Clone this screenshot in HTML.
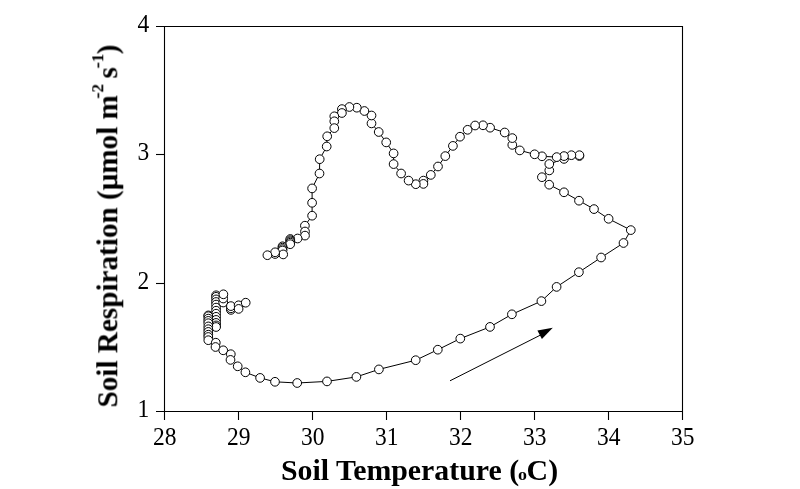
<!DOCTYPE html>
<html><head><meta charset="utf-8"><style>
html,body{margin:0;padding:0;background:#fff;}
body{width:800px;height:489px;overflow:hidden;}
svg{display:block;} text{will-change:transform;}
.lab{font-family:"Liberation Serif",serif;font-size:25px;fill:#000;}
.tit{font-family:"Liberation Serif",serif;font-size:30px;font-weight:bold;fill:#000;}
</style></head><body>
<svg width="800" height="489" viewBox="0 0 800 489">
<rect width="800" height="489" fill="#fff"/>
<g stroke="#000" stroke-width="1.1" fill="none">
<line x1="156" y1="26.5" x2="683.0" y2="26.5"/>
<line x1="156" y1="411.5" x2="683.0" y2="411.5"/>
<line x1="164.5" y1="26.0" x2="164.5" y2="420"/>
<line x1="682.5" y1="26.0" x2="682.5" y2="420"/>
<line x1="156" y1="154.5" x2="164.5" y2="154.5"/>
<line x1="156" y1="283.5" x2="164.5" y2="283.5"/>
<line x1="238.5" y1="411.5" x2="238.5" y2="420"/>
<line x1="312.5" y1="411.5" x2="312.5" y2="420"/>
<line x1="386.5" y1="411.5" x2="386.5" y2="420"/>
<line x1="460.5" y1="411.5" x2="460.5" y2="420"/>
<line x1="534.5" y1="411.5" x2="534.5" y2="420"/>
<line x1="608.5" y1="411.5" x2="608.5" y2="420"/>
</g>
<polyline points="245.7,302.7 238.6,308.9 238.6,305.3 230.9,306.1 230.9,308.3 230.9,309.9 223.4,294.3 223.2,298.5 223.2,302.5 216.1,295.3 216.1,296.8 216.1,299.4 216.1,302.0 216.1,304.6 216.1,307.6 216.1,310.7 216.1,313.7 216.1,316.8 216.1,319.9 216.1,322.9 216.1,325.4 216.1,327.0 208.3,315.4 208.3,316.2 208.3,318.6 208.3,320.9 208.3,323.2 208.3,326.4 208.3,329.2 208.3,331.9 208.3,334.7 208.3,337.0 208.3,340.2 215.8,342.7 215.5,347.0 223.2,350.3 230.8,354.2 230.5,359.9 237.7,366.3 245.4,372.3 260.1,377.9 275.0,381.8 297.2,383.0 327.0,381.4 356.4,376.9 378.9,369.4 415.7,360.2 437.8,349.7 460.3,338.6 490.0,326.9 511.9,314.3 541.4,301.1 556.6,286.9 578.9,272.2 601.1,257.5 623.5,243.0 630.8,230.1 608.6,218.8 594.0,209.1 579.0,200.7 564.0,192.3 549.2,184.7 541.9,177.2 549.3,170.4 549.3,164.0 564.0,158.9 579.4,156.0 579.4,155.2 571.4,155.2 564.0,156.1 556.7,157.1 542.0,156.3 534.6,154.3 519.8,150.4 512.3,144.9 512.3,138.1 504.7,132.5 490.1,127.7 483.0,125.3 475.1,125.5 467.6,129.8 460.0,136.7 452.9,145.9 445.3,156.1 438.0,166.5 430.8,174.9 423.4,180.6 423.4,183.9 415.8,184.2 408.6,180.6 401.1,173.5 393.6,164.1 393.6,153.4 386.2,142.4 378.7,132.0 371.5,123.4 371.5,115.5 364.4,111.0 356.8,107.7 349.4,107.0 341.9,109.1 341.9,113.0 334.3,116.3 334.3,121.3 334.3,128.1 327.2,136.3 326.7,146.5 319.7,159.2 319.5,173.5 312.1,188.4 312.1,202.8 312.1,215.7 304.9,225.7 305.0,231.5 305.0,235.6 297.6,238.5 290.3,239.0 290.3,240.2 290.3,241.4 290.3,242.7 290.2,244.2 282.5,246.3 282.5,247.7 282.5,249.1 282.5,250.5 283.2,254.4 275.1,254.0 275.1,252.3 267.4,255.2" fill="none" stroke="#000" stroke-width="1.0"/>
<path d="M450,380.8 L541,334.8" stroke="#000" stroke-width="1.0" fill="none"/>
<path d="M552.8,327.8 L537.4,330.4 L541.9,339.0 Z" fill="#000"/>
<g fill="#fff" stroke="#000" stroke-width="1.0">
<circle cx="216.1" cy="295.3" r="4.35"/>
<circle cx="216.1" cy="296.8" r="4.35"/>
<circle cx="216.1" cy="299.4" r="4.35"/>
<circle cx="216.1" cy="302.0" r="4.35"/>
<circle cx="216.1" cy="304.6" r="4.35"/>
<circle cx="216.1" cy="307.6" r="4.35"/>
<circle cx="216.1" cy="310.7" r="4.35"/>
<circle cx="216.1" cy="313.7" r="4.35"/>
<circle cx="216.1" cy="316.8" r="4.35"/>
<circle cx="216.1" cy="319.9" r="4.35"/>
<circle cx="216.1" cy="322.9" r="4.35"/>
<circle cx="216.1" cy="325.4" r="4.35"/>
<circle cx="216.1" cy="327.0" r="4.35"/>
<circle cx="208.3" cy="315.4" r="4.35"/>
<circle cx="208.3" cy="316.2" r="4.35"/>
<circle cx="208.3" cy="318.6" r="4.35"/>
<circle cx="208.3" cy="320.9" r="4.35"/>
<circle cx="208.3" cy="323.2" r="4.35"/>
<circle cx="208.3" cy="326.4" r="4.35"/>
<circle cx="208.3" cy="329.2" r="4.35"/>
<circle cx="208.3" cy="331.9" r="4.35"/>
<circle cx="208.3" cy="334.7" r="4.35"/>
<circle cx="208.3" cy="337.0" r="4.35"/>
<circle cx="208.3" cy="340.2" r="4.35"/>
<circle cx="215.8" cy="342.7" r="4.35"/>
<circle cx="215.5" cy="347.0" r="4.35"/>
<circle cx="223.2" cy="350.3" r="4.35"/>
<circle cx="230.8" cy="354.2" r="4.35"/>
<circle cx="230.5" cy="359.9" r="4.35"/>
<circle cx="237.7" cy="366.3" r="4.35"/>
<circle cx="245.4" cy="372.3" r="4.35"/>
<circle cx="260.1" cy="377.9" r="4.35"/>
<circle cx="275.0" cy="381.8" r="4.35"/>
<circle cx="297.2" cy="383.0" r="4.35"/>
<circle cx="327.0" cy="381.4" r="4.35"/>
<circle cx="356.4" cy="376.9" r="4.35"/>
<circle cx="378.9" cy="369.4" r="4.35"/>
<circle cx="415.7" cy="360.2" r="4.35"/>
<circle cx="437.8" cy="349.7" r="4.35"/>
<circle cx="460.3" cy="338.6" r="4.35"/>
<circle cx="490.0" cy="326.9" r="4.35"/>
<circle cx="511.9" cy="314.3" r="4.35"/>
<circle cx="541.4" cy="301.1" r="4.35"/>
<circle cx="556.6" cy="286.9" r="4.35"/>
<circle cx="578.9" cy="272.2" r="4.35"/>
<circle cx="601.1" cy="257.5" r="4.35"/>
<circle cx="623.5" cy="243.0" r="4.35"/>
<circle cx="630.8" cy="230.1" r="4.35"/>
<circle cx="608.6" cy="218.8" r="4.35"/>
<circle cx="594.0" cy="209.1" r="4.35"/>
<circle cx="579.0" cy="200.7" r="4.35"/>
<circle cx="564.0" cy="192.3" r="4.35"/>
<circle cx="549.2" cy="184.7" r="4.35"/>
<circle cx="541.9" cy="177.2" r="4.35"/>
<circle cx="549.3" cy="170.4" r="4.35"/>
<circle cx="549.3" cy="164.0" r="4.35"/>
<circle cx="564.0" cy="158.9" r="4.35"/>
<circle cx="579.4" cy="156.0" r="4.35"/>
<circle cx="579.4" cy="155.2" r="4.35"/>
<circle cx="571.4" cy="155.2" r="4.35"/>
<circle cx="564.0" cy="156.1" r="4.35"/>
<circle cx="556.7" cy="157.1" r="4.35"/>
<circle cx="542.0" cy="156.3" r="4.35"/>
<circle cx="534.6" cy="154.3" r="4.35"/>
<circle cx="519.8" cy="150.4" r="4.35"/>
<circle cx="512.3" cy="144.9" r="4.35"/>
<circle cx="512.3" cy="138.1" r="4.35"/>
<circle cx="504.7" cy="132.5" r="4.35"/>
<circle cx="490.1" cy="127.7" r="4.35"/>
<circle cx="483.0" cy="125.3" r="4.35"/>
<circle cx="475.1" cy="125.5" r="4.35"/>
<circle cx="467.6" cy="129.8" r="4.35"/>
<circle cx="460.0" cy="136.7" r="4.35"/>
<circle cx="452.9" cy="145.9" r="4.35"/>
<circle cx="445.3" cy="156.1" r="4.35"/>
<circle cx="438.0" cy="166.5" r="4.35"/>
<circle cx="430.8" cy="174.9" r="4.35"/>
<circle cx="423.4" cy="180.6" r="4.35"/>
<circle cx="423.4" cy="183.9" r="4.35"/>
<circle cx="415.8" cy="184.2" r="4.35"/>
<circle cx="408.6" cy="180.6" r="4.35"/>
<circle cx="401.1" cy="173.5" r="4.35"/>
<circle cx="393.6" cy="164.1" r="4.35"/>
<circle cx="393.6" cy="153.4" r="4.35"/>
<circle cx="386.2" cy="142.4" r="4.35"/>
<circle cx="378.7" cy="132.0" r="4.35"/>
<circle cx="371.5" cy="123.4" r="4.35"/>
<circle cx="371.5" cy="115.5" r="4.35"/>
<circle cx="364.4" cy="111.0" r="4.35"/>
<circle cx="356.8" cy="107.7" r="4.35"/>
<circle cx="349.4" cy="107.0" r="4.35"/>
<circle cx="341.9" cy="109.1" r="4.35"/>
<circle cx="341.9" cy="113.0" r="4.35"/>
<circle cx="334.3" cy="116.3" r="4.35"/>
<circle cx="334.3" cy="121.3" r="4.35"/>
<circle cx="334.3" cy="128.1" r="4.35"/>
<circle cx="327.2" cy="136.3" r="4.35"/>
<circle cx="326.7" cy="146.5" r="4.35"/>
<circle cx="319.7" cy="159.2" r="4.35"/>
<circle cx="319.5" cy="173.5" r="4.35"/>
<circle cx="312.1" cy="188.4" r="4.35"/>
<circle cx="312.1" cy="202.8" r="4.35"/>
<circle cx="312.1" cy="215.7" r="4.35"/>
<circle cx="304.9" cy="225.7" r="4.35"/>
<circle cx="305.0" cy="231.5" r="4.35"/>
<circle cx="305.0" cy="235.6" r="4.35"/>
<circle cx="297.6" cy="238.5" r="4.35"/>
<circle cx="290.3" cy="239.0" r="4.35"/>
<circle cx="290.3" cy="240.2" r="4.35"/>
<circle cx="290.3" cy="241.4" r="4.35"/>
<circle cx="290.3" cy="242.7" r="4.35"/>
<circle cx="290.2" cy="244.2" r="4.35"/>
<circle cx="282.5" cy="246.3" r="4.35"/>
<circle cx="282.5" cy="247.7" r="4.35"/>
<circle cx="282.5" cy="249.1" r="4.35"/>
<circle cx="282.5" cy="250.5" r="4.35"/>
<circle cx="283.2" cy="254.4" r="4.35"/>
<circle cx="275.1" cy="254.0" r="4.35"/>
<circle cx="275.1" cy="252.3" r="4.35"/>
<circle cx="267.4" cy="255.2" r="4.35"/>
<circle cx="223.2" cy="302.5" r="4.35"/>
<circle cx="223.2" cy="298.5" r="4.35"/>
<circle cx="223.4" cy="294.3" r="4.35"/>
<circle cx="230.9" cy="309.9" r="4.35"/>
<circle cx="230.9" cy="308.3" r="4.35"/>
<circle cx="230.9" cy="306.1" r="4.35"/>
<circle cx="238.6" cy="305.3" r="4.35"/>
<circle cx="238.6" cy="308.9" r="4.35"/>
<circle cx="245.7" cy="302.7" r="4.35"/>
</g>
<g class="lab"><text transform="translate(149.3,416.7) scale(0.94,1.02)" text-anchor="end">1</text><text transform="translate(149.3,288.7) scale(0.94,1.02)" text-anchor="end">2</text><text transform="translate(149.3,159.7) scale(0.94,1.02)" text-anchor="end">3</text><text transform="translate(149.3,31.7) scale(0.94,1.02)" text-anchor="end">4</text><text transform="translate(164.8,444.8) scale(0.94,1.02)" text-anchor="middle">28</text><text transform="translate(238.8,444.8) scale(0.94,1.02)" text-anchor="middle">29</text><text transform="translate(312.8,444.8) scale(0.94,1.02)" text-anchor="middle">30</text><text transform="translate(386.8,444.8) scale(0.94,1.02)" text-anchor="middle">31</text><text transform="translate(460.8,444.8) scale(0.94,1.02)" text-anchor="middle">32</text><text transform="translate(534.8,444.8) scale(0.94,1.02)" text-anchor="middle">33</text><text transform="translate(608.8,444.8) scale(0.94,1.02)" text-anchor="middle">34</text><text transform="translate(682.8,444.8) scale(0.94,1.02)" text-anchor="middle">35</text></g>
<text class="tit" transform="translate(281,480) scale(0.995,0.965)">Soil Temperature (<tspan font-size="18" dx="-1.2">o</tspan><tspan dx="-0.3">C)</tspan></text>
<text class="tit" transform="translate(117,407.5) rotate(-90) scale(0.973,0.96)">Soil Respiration (&#956;mol m<tspan font-size="20" dx="-3.6" dy="-14.2">-</tspan><tspan font-size="17.5" dx="-0.3">2</tspan><tspan dy="14.2" dx="-2"> s</tspan><tspan font-size="20" dx="-1.2" dy="-14.2">-</tspan><tspan font-size="17.5" dx="-0.3">1</tspan><tspan dy="14.2" dx="-0.5">)</tspan></text>
</svg>
</body></html>
